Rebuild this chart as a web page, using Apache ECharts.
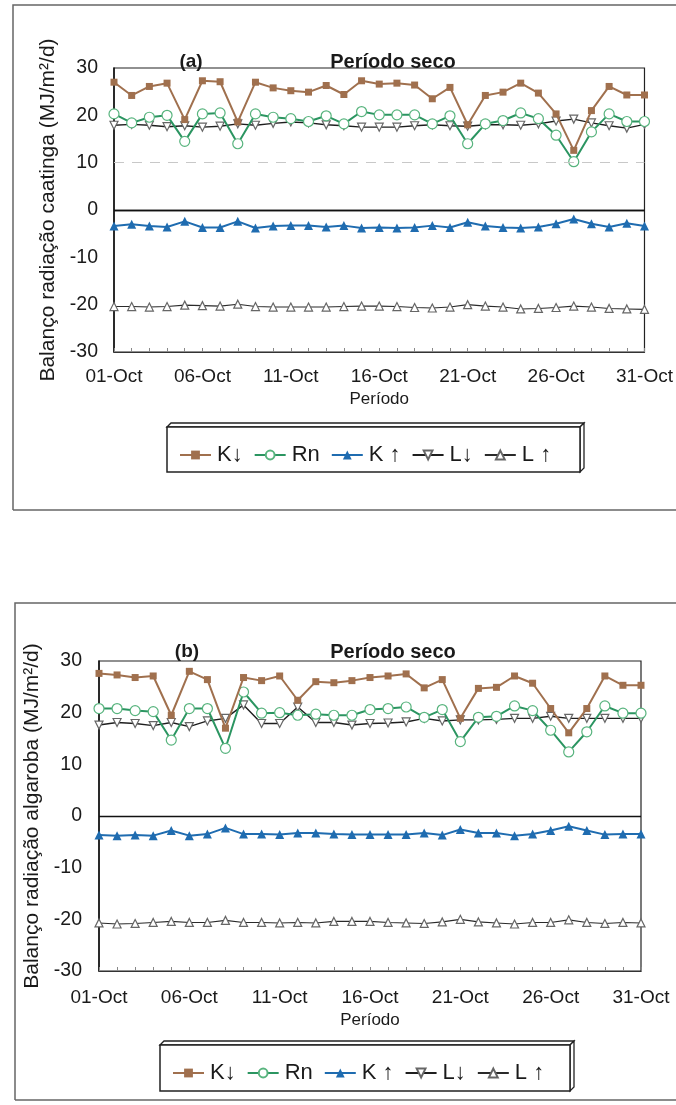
<!DOCTYPE html>
<html><head><meta charset="utf-8">
<script src="https://cdn.jsdelivr.net/npm/echarts@6/dist/echarts.min.js"></script>
<style>html,body{margin:0;padding:0;background:#fff}#c{width:676px;height:1105px}</style>
</head><body><div id="c"></div>
<script>
const days = ['01-Oct','02-Oct','03-Oct','04-Oct','05-Oct','06-Oct','07-Oct','08-Oct','09-Oct','10-Oct','11-Oct','12-Oct','13-Oct','14-Oct','15-Oct','16-Oct','17-Oct','18-Oct','19-Oct','20-Oct','21-Oct','22-Oct','23-Oct','24-Oct','25-Oct','26-Oct','27-Oct','28-Oct','29-Oct','30-Oct','31-Oct'];
const seriesNames = ['K↓','Rn','K ↑','L↓','L ↑'];

// (a) caatinga
const kDownA = [27.0,24.2,26.1,26.8,19.1,27.3,27.1,18.6,27.0,25.8,25.2,24.9,26.3,24.4,27.3,26.6,26.8,26.4,23.5,25.9,18.0,24.2,24.9,26.8,24.7,20.3,12.6,21.0,26.1,24.3,24.3];
const rnA    = [20.3,18.4,19.6,20.0,14.5,20.3,20.5,14.0,20.3,19.6,19.3,18.7,19.9,18.2,20.8,20.1,20.1,20.1,18.2,19.9,14.0,18.2,18.9,20.5,19.3,15.8,10.2,16.5,20.3,18.7,18.7];
const kUpA   = [-3.4,-3.0,-3.4,-3.6,-2.4,-3.7,-3.7,-2.4,-3.8,-3.4,-3.3,-3.3,-3.6,-3.3,-3.8,-3.7,-3.8,-3.7,-3.3,-3.7,-2.6,-3.4,-3.7,-3.8,-3.6,-2.9,-1.9,-2.9,-3.6,-2.8,-3.4];
const lDownA = [17.9,18.1,17.9,17.6,17.8,17.5,17.7,18.2,17.9,18.3,18.6,18.4,18.0,17.8,17.5,17.5,17.5,17.8,18.0,17.8,17.7,18.0,18.0,17.9,18.2,18.8,19.2,18.4,17.8,17.3,18.1];
const lUpA   = [-20.4,-20.4,-20.5,-20.4,-20.1,-20.2,-20.3,-19.9,-20.4,-20.5,-20.5,-20.5,-20.5,-20.4,-20.3,-20.3,-20.4,-20.6,-20.7,-20.5,-20.0,-20.3,-20.5,-20.9,-20.8,-20.6,-20.3,-20.5,-20.8,-20.9,-21.0];

// (b) algaroba
const kDownB = [27.6,27.3,26.8,27.1,19.5,28.0,26.4,17.0,26.8,26.2,27.1,22.4,26.0,25.8,26.2,26.8,27.1,27.5,24.8,26.4,18.9,24.7,24.9,27.1,25.7,20.8,16.1,20.8,27.1,25.3,25.3];
const rnB    = [20.8,20.8,20.4,20.2,14.7,20.8,20.8,13.1,24.0,19.9,20.0,19.5,19.7,19.5,19.5,20.6,20.8,21.1,19.1,20.6,14.4,19.1,19.3,21.3,20.4,16.6,12.4,16.3,21.3,19.9,19.9];
const kUpB   = [-3.7,-3.8,-3.7,-3.8,-2.8,-3.8,-3.5,-2.3,-3.5,-3.5,-3.6,-3.3,-3.3,-3.5,-3.6,-3.6,-3.6,-3.6,-3.3,-3.7,-2.6,-3.3,-3.3,-3.8,-3.5,-2.8,-2.0,-2.8,-3.6,-3.5,-3.5];
const lDownB = [17.6,18.1,17.9,17.5,18.1,17.3,18.4,18.9,21.5,17.9,17.9,21.1,18.1,18.1,17.6,17.9,18.0,18.2,18.9,18.4,18.6,18.6,18.7,18.9,18.9,19.3,18.9,18.9,18.9,18.9,18.9];
const lUpB   = [-20.7,-20.9,-20.8,-20.6,-20.4,-20.6,-20.6,-20.2,-20.6,-20.6,-20.7,-20.6,-20.7,-20.4,-20.4,-20.4,-20.6,-20.7,-20.8,-20.5,-20.0,-20.5,-20.7,-20.9,-20.6,-20.6,-20.1,-20.6,-20.8,-20.6,-20.7];

const yNameA = 'Balanço radiação caatinga (MJ/m²/d)';
const yNameB = 'Balanço radiação algaroba (MJ/m²/d)';
const panelTitle = 'Período seco';
const xName = 'Período';

const FONT = '"Liberation Sans", Arial, sans-serif';
const TXT = '#1a1a1a';

const styles = [
  {symbol:'rect', size:7, color:'#a0704e', fill:'#a0704e', width:2},
  {symbol:'circle', size:10, color:'#2b9561', fill:'#ffffff', border:'#58b47e', width:2},
  {symbol:'triangle', size:9, color:'#1f6cb0', fill:'#1f6cb0', width:2},
  {symbol:'triangle', size:8, rotate:180, color:'#1e1e1e', fill:'#ffffff', border:'#666', width:1.4},
  {symbol:'triangle', size:8, color:'#2a2a2a', fill:'#ffffff', border:'#666', width:1.1}
];

function mk(i, data, g, extra) {
  const s = styles[i];
  const o = {
    name: seriesNames[i], type:'line', xAxisIndex:g, yAxisIndex:g, data:data,
    symbol:s.symbol, symbolSize:s.size, symbolRotate:s.rotate||0, showAllSymbol:true,
    lineStyle:{color:s.color, width:s.width},
    itemStyle:{color:s.fill, borderColor:s.border||s.color, borderWidth: s.border?1.2:0},
    animation:false, z: 3 + (i===0?2:(i===1?1:0))
  };
  return Object.assign(o, extra||{});
}

function zeroLine(extraLines) {
  const d = [{yAxis:0, lineStyle:{color:'#111', type:'solid', width:1.3}}].concat(extraLines||[]);
  return {markLine:{silent:true, symbol:'none', label:{show:false}, data:d, animation:false}};
}

function xAx(g, margin, gap) {
  return {type:'category', gridIndex:g, data:days, boundaryGap:false,
    axisLine:{onZero:false, lineStyle:{color:'#333', width:1.2}},
    axisTick:{show:true, interval:0, length:4, inside:true, lineStyle:{color:'#888'}},
    axisLabel:{interval:4, fontSize:19, color:TXT, margin:margin, fontFamily:FONT},
    splitLine:{show:false},
    name:xName, nameLocation:'middle', nameGap:gap,
    nameTextStyle:{fontSize:17, color:TXT, fontFamily:FONT}};
}
function yAx(g, name, margin, gap) {
  return {type:'value', gridIndex:g, min:-30, max:30, interval:10,
    axisLine:{show:true, lineStyle:{color:'#111', width:1.5}},
    axisTick:{show:false}, splitLine:{show:false},
    axisLabel:{fontSize:19.5, color:TXT, margin:margin, fontFamily:FONT},
    name:name, nameLocation:'middle', nameGap:gap,
    nameTextStyle:{fontSize:21, color:TXT, fontFamily:FONT}};
}

function legendBox(x1, y1, x2, y2, d) {
  return [
    {type:'polygon', shape:{points:[[x1,y1],[x1+d,y1-d],[x2+d,y1-d],[x2,y1]]}, style:{fill:'#fff', stroke:'#222', lineWidth:1.3}, z:1},
    {type:'polygon', shape:{points:[[x2,y1],[x2+d,y1-d],[x2+d,y2-d],[x2,y2]]}, style:{fill:'#fff', stroke:'#222', lineWidth:1.3}, z:1},
    {type:'rect', shape:{x:x1, y:y1, width:x2-x1, height:y2-y1}, style:{fill:'#fff', stroke:'#222', lineWidth:1.5}, z:1}
  ];
}

const legendCommon = {data:seriesNames, orient:'horizontal', itemWidth:31, itemHeight:11, itemGap:11,
  textStyle:{fontSize:22, color:TXT, fontFamily:FONT, padding:[0,0,0,1]}, selectedMode:false, z:10};

const option = {
  backgroundColor:'#fff',
  animation:false,
  textStyle:{fontFamily:FONT},
  title:[
    {text:'(a)', left:186, top:57, textAlign:'center', textVerticalAlign:'middle', textStyle:{fontSize:19, fontWeight:'bold', color:TXT, fontFamily:FONT}},
    {text:panelTitle, left:388, top:57, textAlign:'center', textVerticalAlign:'middle', textStyle:{fontSize:20, fontWeight:'bold', color:TXT, fontFamily:FONT}},
    {text:'(b)', left:182, top:647, textAlign:'center', textVerticalAlign:'middle', textStyle:{fontSize:19, fontWeight:'bold', color:TXT, fontFamily:FONT}},
    {text:panelTitle, left:388, top:647, textAlign:'center', textVerticalAlign:'middle', textStyle:{fontSize:20, fontWeight:'bold', color:TXT, fontFamily:FONT}}
  ],
  grid:[
    {left:114, top:68, width:534, height:284, show:true, borderColor:'#222', borderWidth:1.2, backgroundColor:'transparent'},
    {left:99, top:661, width:542, height:310, show:true, borderColor:'#222', borderWidth:1.2, backgroundColor:'transparent'}
  ],
  xAxis:[xAx(0, 15, 39), xAx(1, 17, 41)],
  yAxis:[yAx(0, yNameA, 16, 44), yAx(1, yNameB, 17, 45)],
  legend:[
    Object.assign({left:174, top:439}, legendCommon),
    Object.assign({left:167, top:1057}, legendCommon)
  ],
  graphic:[
    {type:'polyline', shape:{points:[[13,510],[13,5],[680,5]]}, style:{stroke:'#666', lineWidth:1.5, fill:null}},
    {type:'line', shape:{x1:13, y1:510, x2:680, y2:510}, style:{stroke:'#666', lineWidth:1.5}},
    {type:'polyline', shape:{points:[[15,1100],[15,603],[680,603]]}, style:{stroke:'#666', lineWidth:1.5, fill:null}},
    {type:'line', shape:{x1:15, y1:1100, x2:680, y2:1100}, style:{stroke:'#666', lineWidth:1.5}}
  ].concat(legendBox(167, 427, 580, 472, 4)).concat(legendBox(160, 1045, 570, 1091, 4)),
  series:[
    mk(4, lUpA, 0), mk(3, lDownA, 0), mk(2, kUpA, 0, zeroLine()),
    mk(1, rnA, 0, zeroLine([{yAxis:10, lineStyle:{color:'#c8c8c8', type:[10,8], width:1.2}}])),
    mk(0, kDownA, 0),
    mk(4, lUpB, 1), mk(3, lDownB, 1), mk(2, kUpB, 1, zeroLine()),
    mk(1, rnB, 1), mk(0, kDownB, 1)
  ]
};

const chart = echarts.init(document.getElementById('c'), null, {renderer:'canvas', width:676, height:1105});
chart.setOption(option);
</script>
</body></html>
